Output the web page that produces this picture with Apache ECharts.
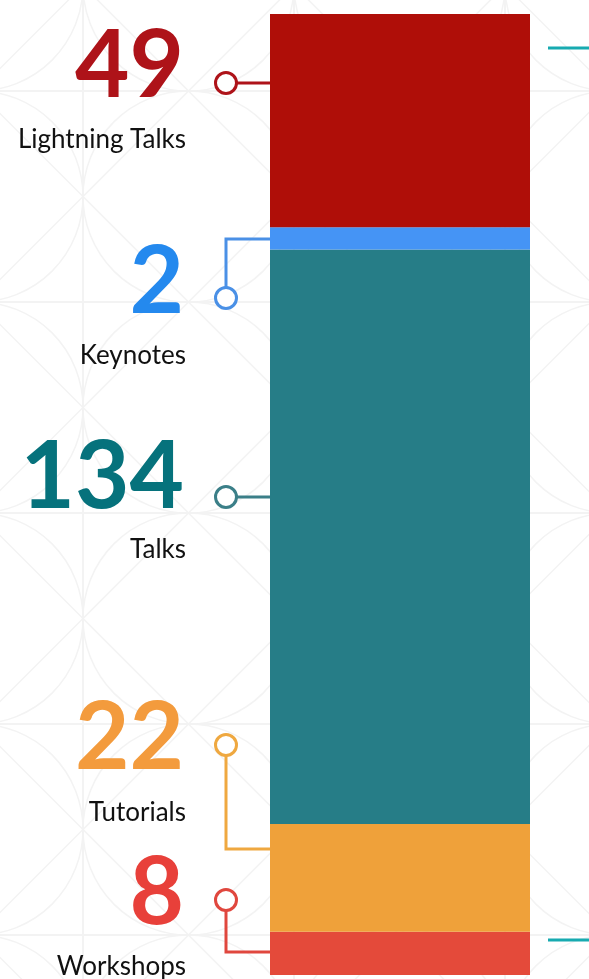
<!DOCTYPE html>
<html>
<head>
<meta charset="utf-8">
<script src="https://cdn.jsdelivr.net/npm/echarts@6/dist/echarts.min.js"></script>
<style>
  html,body{margin:0;padding:0;background:#fff;}
  #chart{width:589px;height:979px;}
</style>
</head>
<body>
<div id="chart"></div>
<script>
// session types, top of the bar first
var categories=['Lightning Talks','Keynotes','Talks','Tutorials','Workshops'];
var counts=[49,2,134,22,8];
// share of the bar height each segment takes in the picture (%)
var segmentShare=[22.2,2.3,59.8,11.2,4.5];
var barColors=['#af0e08','#4594f5','#267d87','#efa13a','#e44a3a'];
var numColors=['#ae1319','#2489ee','#06727c','#f39b3d','#e8403a'];
var lineColors=['#ae1319','#4a90e6','#3b7f88','#efa840','#e0473e'];

// callout layout: circle y, attach y on the bar, number baseline, label baseline
var callouts=[
  {cy:83, ay:83, ny:101, ly:148},
  {cy:298,ay:239,ny:317, ly:364},
  {cy:497,ay:497,ny:512, ly:558},
  {cy:745,ay:849,ny:773, ly:821},
  {cy:900,ay:952,ny:928, ly:975}
];

var el=document.getElementById('chart');
var chart=echarts.init(el,null,{renderer:'canvas'});

// faint tiled background: grid squares with inscribed diamond + circle
var TILE=211, OX=83-TILE, OY=91-TILE, bgCol='#f3f3f3';
var bg=[];
for (var i=0;i<5;i++){
  for (var j=0;j<7;j++){
    var x=OX+i*TILE, y=OY+j*TILE, h=TILE/2;
    bg.push({type:'rect',shape:{x:x,y:y,width:TILE,height:TILE},style:{fill:null,stroke:bgCol,lineWidth:2},silent:true,z:-10});
    bg.push({type:'polygon',shape:{points:[[x+h,y],[x+TILE,y+h],[x+h,y+TILE],[x,y+h]]},style:{fill:null,stroke:bgCol,lineWidth:1.5},silent:true,z:-10});
    bg.push({type:'circle',shape:{cx:x+h,cy:y+h,r:h},style:{fill:null,stroke:bgCol,lineWidth:1.5},silent:true,z:-10});
  }
}
// teal tick marks on the right edge
bg.push({type:'line',shape:{x1:548,y1:48,x2:589,y2:48},style:{stroke:'#17aab0',lineWidth:3},silent:true});
bg.push({type:'line',shape:{x1:548,y1:940,x2:589,y2:940},style:{stroke:'#17aab0',lineWidth:3},silent:true});

var BAR_X=270, CX=226;
var marks=[];
callouts.forEach(function(c,k){
  var pts=c.cy===c.ay?[[CX,c.cy],[BAR_X,c.ay]]:[[CX,c.cy],[CX,c.ay],[BAR_X,c.ay]];
  marks.push({type:'polyline',shape:{points:pts},style:{stroke:lineColors[k],lineWidth:3,fill:null},z:20});
  marks.push({type:'circle',shape:{cx:CX,cy:c.cy,r:10.5},style:{fill:'#fff',stroke:lineColors[k],lineWidth:3},z:21});
  marks.push({type:'text',x:184,y:c.ny-34,z:20,style:{text:String(counts[k]),fill:numColors[k],
    font:'bold 94px Lato',align:'right',verticalAlign:'middle'}});
  marks.push({type:'text',x:186,y:c.ly-8,z:20,style:{text:categories[k],fill:'#111',
    font:'26px Lato',align:'right',verticalAlign:'middle'}});
});

// stack bottom-up
var series=[];
for (var k=categories.length-1;k>=0;k--){
  series.push({name:categories[k],type:'bar',stack:'all',barWidth:'100%',
    data:[segmentShare[k]],itemStyle:{color:barColors[k]},silent:true});
}

chart.setOption({
  animation:false,
  backgroundColor:'#fff',
  grid:{left:BAR_X,top:14,width:260,height:961},
  xAxis:{type:'category',data:['sessions'],show:false},
  yAxis:{type:'value',min:0,max:100,show:false},
  series:series,
  graphic:bg.concat(marks)
});
</script>
</body>
</html>
